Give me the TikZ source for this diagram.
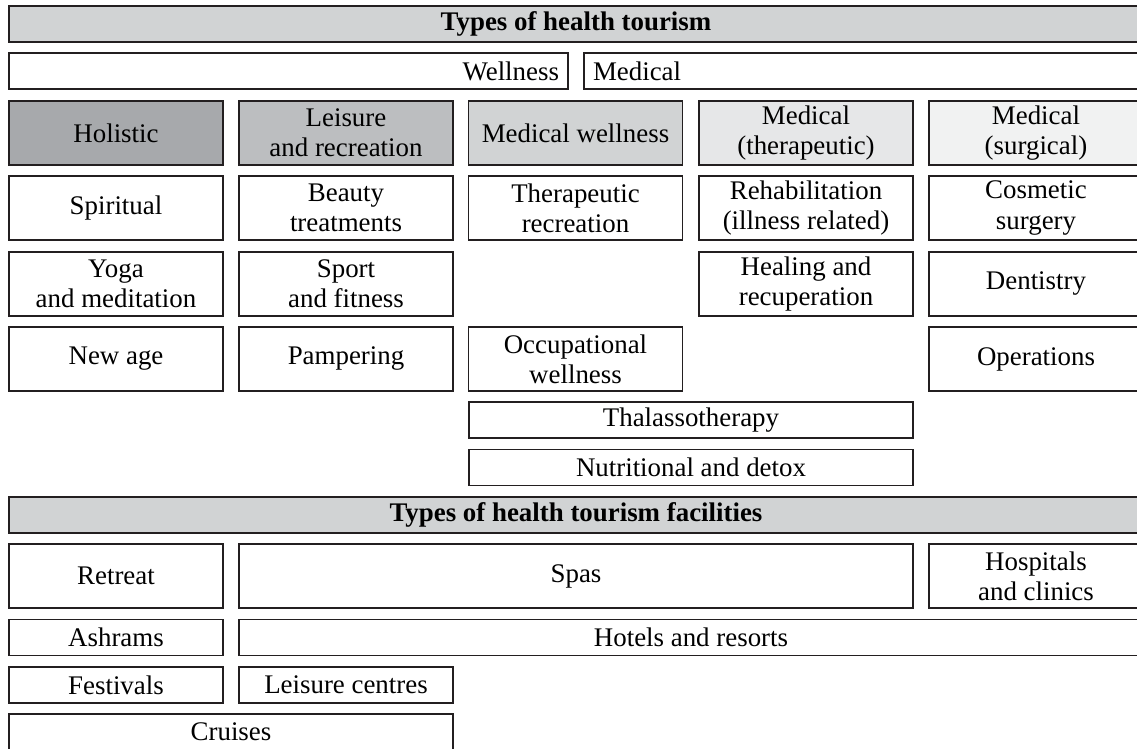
\documentclass[tikz,border=0pt]{standalone}
\usepackage{fontspec}
\setmainfont{Liberation Serif}
\usetikzlibrary{positioning}

\definecolor{ink}{HTML}{231F20}
\definecolor{headgray}{HTML}{D1D3D4}
\definecolor{holgray}{HTML}{A7A9AC}
\definecolor{leigray}{HTML}{BCBEC0}
\definecolor{mwgray}{HTML}{D1D3D4}
\definecolor{thgray}{HTML}{E6E7E8}
\definecolor{sugray}{HTML}{F1F2F2}

\begin{document}
\begin{tikzpicture}[
        cell/.style={draw=ink, line width=1.1pt, fill=white, rectangle, minimum width=4.28cm, minimum height=1.28cm, inner sep=0pt, align=center, font=\fontsize{15.3}{17.2}\selectfont},
        thin/.style={cell, minimum height=0.72cm},
        header/.style={thin, minimum width=22.68cm, fill=headgray, font=\fontsize{15.3}{17.2}\selectfont\bfseries},
        wide/.style={thin, minimum width=8.88cm}
    ]
        \useasboundingbox (0,0) rectangle (22.74,14.98);
        \clip (0,0) rectangle (22.74,14.98);

        % --- Types of health tourism ---
        \node[header] (title) at (11.52, 14.50) {Types of health tourism};
        \node[thin, minimum width=11.18cm, text width=10.82cm, align=right] (wellness) at (5.77, 13.56) {Wellness};
        \node[thin, minimum width=11.18cm, text width=10.82cm, align=left] (medical) at (17.27, 13.56) {Medical};

        % --- Categories ---
        \node[cell, fill=holgray] (holistic) at (2.32, 12.32) {Holistic};
        \node[cell, fill=leigray] (leisure) at (6.92, 12.32) {Leisure\\and recreation};
        \node[cell, fill=mwgray] (medwell) at (11.51, 12.32) {Medical wellness};
        \node[cell, fill=thgray] (medther) at (16.12, 12.32) {Medical\\(therapeutic)};
        \node[cell, fill=sugray] (medsurg) at (20.72, 12.32) {Medical\\(surgical)};

        % --- Row 2 ---
        \node[cell] (spiritual) at (2.32, 10.82) {Spiritual};
        \node[cell] (beauty) at (6.92, 10.82) {Beauty\\treatments};
        \node[cell] (therrec) at (11.51, 10.82) {Therapeutic\\recreation};
        \node[cell] (rehab) at (16.12, 10.82) {Rehabilitation\\(illness related)};
        \node[cell] (cosmetic) at (20.72, 10.82) {Cosmetic\\surgery};

        % --- Row 3 ---
        \node[cell] (yoga) at (2.32, 9.30) {Yoga\\and meditation};
        \node[cell] (sport) at (6.92, 9.30) {Sport\\and fitness};
        \node[cell] (healing) at (16.12, 9.30) {Healing and\\recuperation};
        \node[cell] (dentistry) at (20.72, 9.30) {Dentistry};

        % --- Row 4 ---
        \node[cell] (newage) at (2.32, 7.80) {New age};
        \node[cell] (pampering) at (6.92, 7.80) {Pampering};
        \node[cell] (occup) at (11.51, 7.80) {Occupational\\wellness};
        \node[cell] (operations) at (20.72, 7.80) {Operations};

        % --- Spanning rows ---
        \node[wide] (thalasso) at (13.82, 6.58) {Thalassotherapy};
        \node[wide] (nutrition) at (13.82, 5.63) {Nutritional and detox};

        % --- Types of health tourism facilities ---
        \node[header] (factitle) at (11.52, 4.68) {Types of health tourism facilities};
        \node[cell] (retreat) at (2.32, 3.46) {Retreat};
        \node[cell, minimum width=13.48cm] (spas) at (11.52, 3.46) {Spas};
        \node[cell] (hospitals) at (20.72, 3.46) {Hospitals\\and clinics};
        \node[thin] (ashrams) at (2.32, 2.23) {Ashrams};
        \node[thin, minimum width=18.08cm] (hotels) at (13.82, 2.23) {Hotels and resorts};
        \node[thin] (festivals) at (2.32, 1.28) {Festivals};
        \node[thin] (leiscent) at (6.92, 1.28) {Leisure centres};
        \node[wide] (cruises) at (4.62, 0.34) {Cruises};

    \end{tikzpicture}
\end{document}
